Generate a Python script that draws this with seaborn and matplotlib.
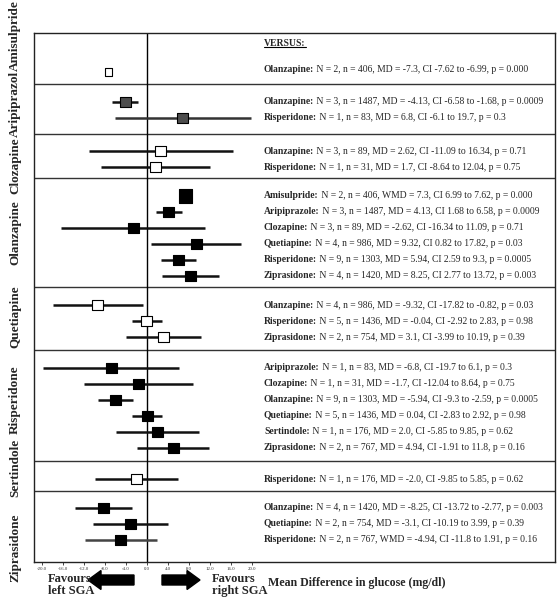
import matplotlib
matplotlib.use("Agg")
import matplotlib.pyplot as plt
import matplotlib.transforms as mtransforms
from matplotlib.patches import FancyArrow
import pandas as pd
import seaborn as sns

# --- data ---
GROUPS = ["Amisulpride", "Aripiprazol", "Clozapine", "Olanzapine",
          "Quetiapine", "Risperidone", "Sertindole", "Ziprasidone"]
GROUP_FILL = ["open", "grey", "open", "filled", "open", "filled", "open", "filled"]

ROW_GROUP = [0, 1, 1, 2, 2, 3, 3, 3, 3, 3, 3, 4, 4, 4, 5, 5, 5, 5, 5, 5, 6, 7, 7, 7]
COMPARATOR = ["Olanzapine",
              "Olanzapine", "Risperidone",
              "Olanzapine", "Risperidone",
              "Amisulpride", "Aripiprazole", "Clozapine", "Quetiapine", "Risperidone", "Ziprasidone",
              "Olanzapine", "Risperidone", "Ziprasidone",
              "Aripiprazole", "Clozapine", "Olanzapine", "Quetiapine", "Sertindole", "Ziprasidone",
              "Risperidone",
              "Olanzapine", "Quetiapine", "Risperidone"]
N_STUDIES = [2, 3, 1, 3, 1, 2, 3, 3, 4, 9, 4, 4, 5, 2, 1, 1, 9, 5, 1, 2, 1, 4, 2, 2]
N_PATIENTS = [406, 1487, 83, 89, 31, 406, 1487, 89, 986, 1303, 1420, 986, 1436, 754,
              83, 31, 1303, 1436, 176, 767, 176, 1420, 754, 767]
MEASURE = ["MD"] * 5 + ["WMD"] + ["MD"] * 17 + ["WMD"]
MD = [-7.3, -4.13, 6.8, 2.62, 1.7, 7.3, 4.13, -2.62, 9.32, 5.94, 8.25, -9.32, -0.04, 3.1,
      -6.8, -1.7, -5.94, 0.04, 2.0, 4.94, -2.0, -8.25, -3.1, -4.94]
CI_LO = [-7.62, -6.58, -6.1, -11.09, -8.64, 6.99, 1.68, -16.34, 0.82, 2.59, 2.77, -17.82, -2.92, -3.99,
         -19.7, -12.04, -9.3, -2.83, -5.85, -1.91, -9.85, -13.72, -10.19, -11.8]
CI_HI = [-6.99, -1.68, 19.7, 16.34, 12.04, 7.62, 6.58, 11.09, 17.82, 9.3, 13.72, -0.82, 2.83, 10.19,
         6.1, 8.64, -2.59, 2.92, 9.85, 11.8, 5.85, -2.77, 3.99, 1.91]
P_VALUE = ["0.000", "0.0009", "0.3", "0.71", "0.75", "0.000", "0.0009", "0.71", "0.03", "0.0005",
           "0.003", "0.03", "0.98", "0.39", "0.3", "0.75", "0.0005", "0.98", "0.62", "0.16",
           "0.62", "0.003", "0.39", "0.16"]
XTICKS = [-20, -16, -12, -8, -4, 0, 4, 8, 12, 16, 20]

# --- layout (figure pixels, y from top) ---
W, H = 558, 600
BOX_L, BOX_R, BOX_T = 34, 555, 33
GROUP_H = [51, 50, 44, 109, 63, 111, 30, 71]
ROW_STEP = 16
FIRST_OFF = [39, 18, 17, 18, 18, 18, 18, 17]
LABEL_Y = [36, 104, 166, 233, 317, 400, 468, 548]
ZERO_PX, PX_PER_UNIT = 147, 5.27
TEXT_X = 264
FS = 6.9

group_top = [BOX_T]
for h in GROUP_H:
    group_top.append(group_top[-1] + h)
BOX_B = group_top[-1]

row_y = []
seen = {}
for g in ROW_GROUP:
    k = seen.get(g, 0)
    row_y.append(group_top[g] + FIRST_OFF[g] + k * ROW_STEP)
    seen[g] = k + 1

df = pd.DataFrame({"group": ROW_GROUP, "md": MD, "lo": CI_LO, "hi": CI_HI, "y": row_y})
df["fill"] = [GROUP_FILL[g] for g in ROW_GROUP]
df["msize"] = ["normal"] * len(df)
df.loc[0, "msize"] = "small"
df.loc[5, "msize"] = "big"

sns.set_theme(style="white")
plt.rcParams["font.family"] = ["Liberation Serif", "DejaVu Serif"]

fig = plt.figure(figsize=(W / 100, H / 100), dpi=100)
ax = fig.add_axes([BOX_L / W, 1 - BOX_B / H, (BOX_R - BOX_L) / W, (BOX_B - BOX_T) / H])
ax.set_xlim((BOX_L - ZERO_PX) / PX_PER_UNIT, (BOX_R - ZERO_PX) / PX_PER_UNIT)
ax.set_ylim(BOX_B, BOX_T)

# separators and zero line
for yy in group_top[1:-1]:
    ax.axhline(yy, color="#333333", lw=1.0, zorder=1)
ax.axvline(0, color="black", lw=1.0, zorder=1)

# CI lines
line_col = ["#111111"] * len(df)
line_col[2] = "#333333"
line_col[23] = "#444444"
ax.hlines(df["y"], df["lo"], df["hi"], colors=line_col, lw=1.8, zorder=2)

sns.scatterplot(data=df, x="md", y="y", hue="fill", size="msize", marker="s",
                palette={"filled": "black", "grey": "#4d4d4d", "open": "white"},
                sizes={"small": 30, "normal": 62, "big": 95},
                edgecolor="black", linewidth=0.8, legend=False, zorder=3, ax=ax)

ax.set_xlabel("")
ax.set_ylabel("")
ax.set_yticks([])
ax.set_xticks(XTICKS)
ax.set_xticklabels([f"{v:.1f}" for v in XTICKS], fontsize=3.5, color="#333333")
ax.tick_params(axis="x", bottom=True, length=2, width=0.6, pad=1.5)
for s in ax.spines.values():
    s.set_visible(True)
    s.set_color("#222222")
    s.set_linewidth(1.0)

# right-hand text
trans = mtransforms.blended_transform_factory(ax.transAxes, ax.transData)
tx = (TEXT_X - BOX_L) / (BOX_R - BOX_L)
versus = ax.text(tx, BOX_T + 10, "VERSUS:", transform=trans, fontsize=FS,
                 fontweight="bold", va="center", ha="left")
for i in range(len(df)):
    yt = row_y[i] - 3 if i == 0 else row_y[i]
    t = ax.text(tx, yt, COMPARATOR[i] + ":", transform=trans, fontsize=FS,
                fontweight="bold", va="center", ha="left")
    rest = (f" N = {N_STUDIES[i]}, n = {N_PATIENTS[i]}, {MEASURE[i]} = {MD[i]}, "
            f"CI {CI_LO[i]} to {CI_HI[i]}, p = {P_VALUE[i]}")
    ax.annotate(rest, xy=(1, 0), xycoords=t, va="bottom", ha="left", fontsize=FS)

# overlay in figure pixels
ov = fig.add_axes([0, 0, 1, 1], facecolor="none")
ov.set_xlim(0, W)
ov.set_ylim(H, 0)
ov.axis("off")

for name, yy in zip(GROUPS, LABEL_Y):
    ov.text(15, yy, name, rotation=90, fontsize=9.5, fontweight="bold",
            ha="center", va="center")

ov.text(48, 585, "Favours\nleft SGA", fontsize=9, fontweight="bold",
        ha="left", va="center", linespacing=1.05)
ov.text(212, 585, "Favours\nright SGA", fontsize=9, fontweight="bold",
        ha="left", va="center", linespacing=1.05)
ov.text(268, 583, "Mean Difference in glucose (mg/dl)", fontsize=8.6,
        fontweight="bold", ha="left", va="center")

ov.add_patch(FancyArrow(134, 580, -33, 0, width=10, head_width=19, head_length=13,
                        length_includes_head=False, color="black"))
ov.add_patch(FancyArrow(162, 580, 25, 0, width=10, head_width=19, head_length=13,
                        length_includes_head=False, color="black"))

# underline VERSUS
fig.canvas.draw()
bb = versus.get_window_extent()
inv = ov.transData.inverted()
(x0, y0), (x1, _) = inv.transform([(bb.x0, bb.y0), (bb.x1, bb.y0)])
ov.plot([x0, x1], [y0 - 0.5, y0 - 0.5], color="black", lw=0.8)

fig.savefig("out.png", dpi=100, facecolor="white")
